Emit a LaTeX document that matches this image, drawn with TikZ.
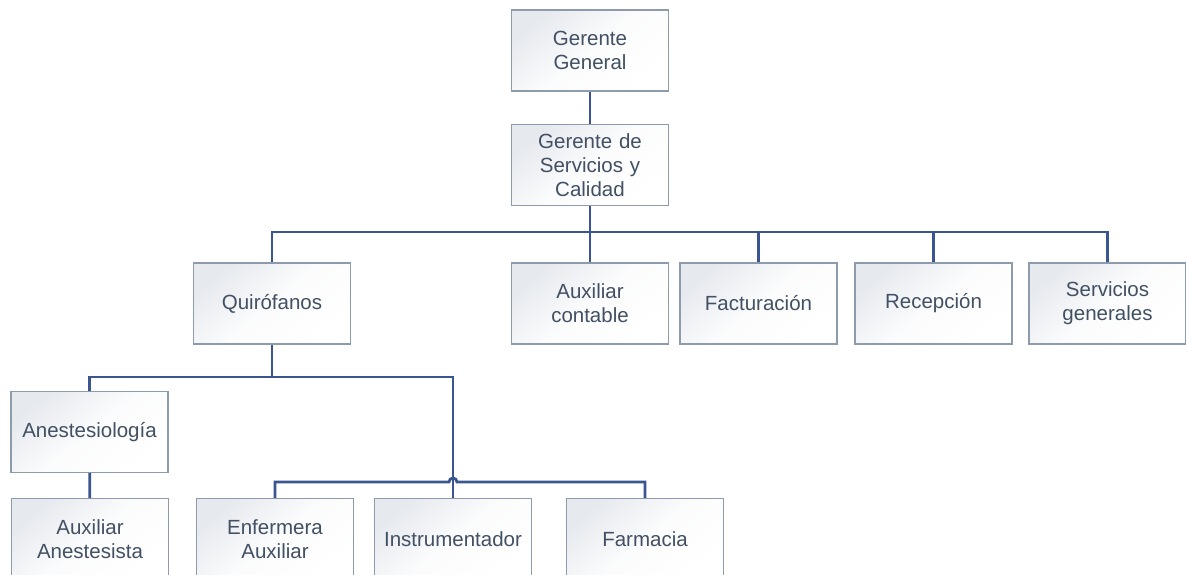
\documentclass[tikz,border=0pt]{standalone}
\usepackage{fontspec}
\setmainfont{Liberation Sans}
\definecolor{boxedge}{HTML}{8E9BAC}
\definecolor{boxshade}{HTML}{E6E9EE}
\definecolor{linkblue}{HTML}{3A5590}
\definecolor{labelgray}{HTML}{425063}
\tikzset{
  orgbox/.style={draw=boxedge, line width=1.2pt, rectangle,
    top color=boxshade, bottom color=white, middle color=white!85!boxshade,
    shading angle=40,
    minimum width=157pt, minimum height=81pt, inner sep=2pt,
    text width=150pt, align=center, text=labelgray,
    font=\fontsize{20.5}{24}\selectfont},
  link/.style={draw=linkblue, line width=2.8pt}
}
\begin{document}
\begin{tikzpicture}[x=1pt, y=-1pt]
\useasboundingbox (0,0) rectangle (1186,575);
\clip (0,0) rectangle (1186,575);
\fill[white] (0,0) rectangle (1186,575);

% junction points of the connector buses
\coordinate (bus1) at (590,232);
\coordinate (bus2) at (272,377);
\coordinate (hopL) at (449,482);
\coordinate (hopR) at (457,482);

% boxes
\node[orgbox] (gg)    at (590,50.5)   {Gerente\\General};
\node[orgbox] (gs)    at (590,165)    {Gerente de\\Servicios y\\Calidad};
\node[orgbox] (quir)  at (272,303.5)  {Quirófanos};
\node[orgbox] (auxc)  at (590,303.5)  {Auxiliar\\contable};
\node[orgbox] (fact)  at (758.5,303.5){Facturación};
\node[orgbox] (recep) at (933.5,303.5){Recepción};
\node[orgbox] (serv)  at (1107.5,303.5){Servicios\\generales};
\node[orgbox] (anest) at (89.5,432)   {Anestesiología};
\node[orgbox] (auxan) at (90,539)     {Auxiliar\\Anestesista};
\node[orgbox] (enf)   at (275,539)    {Enfermera\\Auxiliar};
\node[orgbox] (instr) at (453,539)    {Instrumentador};
\node[orgbox] (farm)  at (645,539)    {Farmacia};

% connectors
\draw[link] (gg) -- (gs);
\draw[link] (gs) -- (bus1);
\draw[link] (quir.north) |- (bus1) -| (serv.north);
\draw[link] (bus1) -- (auxc);
\draw[link] (bus1) -| (fact.north);
\draw[link] (bus1) -| (recep.north);

\draw[link] (quir) -- (bus2);
\draw[link] (anest.north) |- (bus2) -| (instr.north);
\draw[link] (anest) -- (auxan);

\draw[link] (enf.north) |- (hopL) arc[start angle=180, end angle=0, radius=4pt]
  -- (hopR) -| (farm.north);
\end{tikzpicture}
\end{document}
